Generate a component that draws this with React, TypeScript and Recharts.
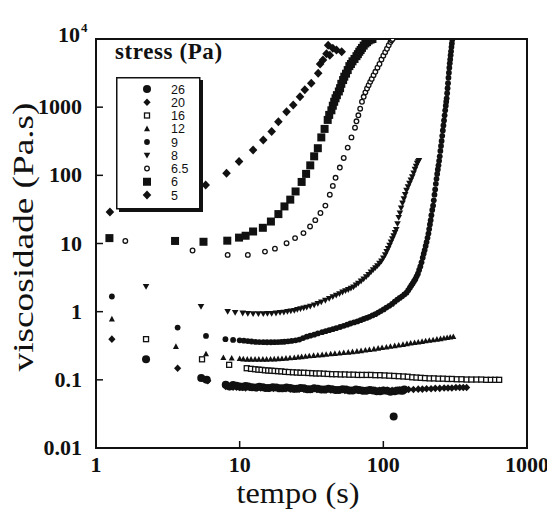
import { ScatterChart, Scatter, XAxis, YAxis, ReferenceArea, Legend } from 'recharts'

const stressLevels = ['26', '20', '16', '12', '9', '8', '6.5', '6', '5']
const xTicks = [1, 10, 100, 1000]
const yTicks = [0.01, 0.1, 1, 10, 100, 1000, 10000]

// [tempo (s), viscosidade (Pa.s)]
const pa26 = [[2.23, 0.2], [5.4, 0.106], [5.9, 0.1], [8, 0.085], [8.5, 0.08], [9, 0.084], [9.5, 0.082], [10, 0.08], [10.5, 0.079], [11, 0.081], [11.5, 0.08], [12.2, 0.078], [13, 0.077], [13.7, 0.079], [14.5, 0.078], [15.2, 0.076], [16, 0.076], [17, 0.078], [18, 0.077], [19, 0.075], [20, 0.075], [21.2, 0.077], [22.5, 0.076], [23.7, 0.074], [25, 0.074], [26.5, 0.076], [28, 0.075], [29.5, 0.073], [31, 0.073], [33, 0.075], [35, 0.074], [37, 0.072], [39, 0.072], [41.5, 0.074], [44, 0.073], [46.5, 0.071], [49, 0.071], [52, 0.073], [55, 0.072], [58, 0.07], [61, 0.07], [64.5, 0.072], [68, 0.071], [72, 0.069], [76, 0.069], [80.5, 0.071], [85, 0.07], [90, 0.068], [95, 0.068], [100, 0.07], [106, 0.069], [112, 0.067], [118, 0.029], [120, 0.068], [126, 0.07], [132, 0.07], [136, 0.069], [140, 0.072]]
const pa20 = [[1.29, 0.395], [3.7, 0.148], [5.6, 0.103], [6, 0.097], [8, 0.08], [8.5, 0.079], [9, 0.078], [9.5, 0.078], [10, 0.077], [10.5, 0.077], [11, 0.076], [11.7, 0.077], [12.5, 0.077], [13.2, 0.076], [14, 0.076], [15, 0.076], [16, 0.075], [17.2, 0.075], [18.5, 0.074], [19.7, 0.074], [21, 0.074], [22.5, 0.073], [24, 0.073], [26, 0.073], [28, 0.073], [30, 0.072], [32, 0.072], [34.5, 0.072], [37, 0.072], [40, 0.071], [43, 0.071], [46.5, 0.071], [50, 0.071], [54, 0.07], [58, 0.07], [62.5, 0.07], [67, 0.07], [72, 0.07], [77, 0.07], [82.5, 0.07], [88, 0.07], [94, 0.07], [100, 0.07], [107, 0.07], [115, 0.07], [122, 0.07], [130, 0.071], [140, 0.071], [150, 0.072], [162, 0.072], [175, 0.073], [187, 0.073], [200, 0.074], [215, 0.074], [230, 0.075], [247, 0.075], [265, 0.076], [282, 0.076], [300, 0.076], [320, 0.077], [340, 0.077], [360, 0.077], [380, 0.077]]
const pa16 = [[2.23, 0.395], [5.47, 0.2], [8.45, 0.166], [11.2, 0.148], [12, 0.145], [12.8, 0.143], [13.5, 0.141], [14.2, 0.14], [15, 0.138], [15.8, 0.137], [16.6, 0.136], [17.5, 0.135], [18.5, 0.134], [19.5, 0.133], [20.7, 0.131], [22, 0.13], [23.5, 0.129], [25, 0.128], [26.5, 0.127], [28, 0.127], [30, 0.126], [32, 0.125], [34, 0.124], [36, 0.124], [38.5, 0.123], [41, 0.122], [44, 0.121], [47, 0.121], [50.5, 0.12], [54, 0.12], [58, 0.119], [62, 0.119], [66.5, 0.118], [71, 0.118], [76.5, 0.118], [82, 0.118], [88, 0.117], [95, 0.117], [102, 0.116], [110, 0.115], [119, 0.114], [128, 0.113], [138, 0.112], [148, 0.111], [159, 0.109], [170, 0.108], [182, 0.107], [195, 0.106], [210, 0.105], [225, 0.105], [242, 0.104], [260, 0.104], [280, 0.103], [300, 0.103], [325, 0.102], [350, 0.102], [380, 0.101], [410, 0.101], [445, 0.101], [480, 0.101], [520, 0.1], [560, 0.1], [600, 0.1], [640, 0.1]]
const pa12 = [[1.29, 0.78], [3.6, 0.308], [5.83, 0.24], [7.7, 0.212], [8.8, 0.208], [10, 0.205], [10.6, 0.202], [11.3, 0.2], [12, 0.2], [12.8, 0.2], [13.6, 0.2], [14.5, 0.2], [15.4, 0.2], [16.4, 0.201], [17.4, 0.202], [18.5, 0.204], [19.7, 0.205], [21, 0.207], [22.4, 0.21], [24, 0.212], [25.5, 0.215], [27, 0.218], [28.7, 0.221], [30.5, 0.224], [32.7, 0.227], [35, 0.23], [37.5, 0.233], [40, 0.236], [43, 0.24], [46, 0.243], [49.5, 0.246], [53, 0.25], [57, 0.254], [61, 0.258], [65.5, 0.262], [70, 0.267], [75, 0.272], [80, 0.277], [86, 0.283], [92, 0.29], [98, 0.296], [105, 0.302], [112, 0.309], [120, 0.316], [128, 0.323], [137, 0.33], [146, 0.338], [155, 0.345], [165, 0.352], [175, 0.358], [186, 0.365], [197, 0.372], [209, 0.379], [222, 0.386], [236, 0.393], [250, 0.4], [264, 0.408], [278, 0.415], [292, 0.422], [307, 0.43]]
const pa9 = [[1.29, 1.67], [3.7, 0.585], [5.83, 0.44], [7.96, 0.395], [9, 0.385], [10, 0.38], [10.7, 0.375], [11.4, 0.37], [12.1, 0.365], [12.9, 0.36], [13.7, 0.358], [14.6, 0.357], [15.5, 0.356], [16.5, 0.356], [17.5, 0.357], [18.5, 0.358], [19.5, 0.36], [20.5, 0.362], [21.7, 0.367], [23, 0.372], [24.5, 0.38], [26, 0.39], [27.6, 0.41], [29.3, 0.43], [31, 0.445], [33, 0.46], [35, 0.48], [37.5, 0.5], [39.7, 0.517], [42, 0.535], [44.5, 0.553], [47, 0.573], [50, 0.596], [53, 0.62], [56, 0.645], [59, 0.67], [62.5, 0.695], [66, 0.72], [69.5, 0.75], [73, 0.78], [76.5, 0.81], [80, 0.84], [84, 0.88], [88, 0.92], [92, 0.97], [96, 1.02], [100.5, 1.08], [105, 1.15], [110, 1.22], [115, 1.3], [120, 1.4], [125, 1.5], [130, 1.59], [135, 1.68], [140, 1.79], [145, 1.9], [149, 2.07], [153, 2.25], [156.5, 2.42], [160, 2.6], [163.5, 2.8], [167, 3.0], [170.5, 3.3], [174, 3.6], [177.5, 4.1], [181, 4.6], [184.5, 5.3], [188, 6.2], [191, 7.1], [194, 8], [197, 9.2], [200, 10.5], [203, 12.1], [206, 14], [208.5, 16.3], [211, 19], [213.5, 22], [216, 26], [219, 31], [222, 36], [224.5, 43], [227, 52], [229.5, 62], [232, 75], [234.5, 89], [237, 105], [239.5, 122], [242, 140], [244.5, 163], [247, 190], [249.5, 228], [252, 270], [254.5, 320], [257, 380], [259.5, 455], [262, 540], [264.5, 640], [267, 760], [269.5, 900], [272, 1050], [274, 1200], [276, 1350], [278, 1600], [280, 1900], [282, 2250], [284, 2700], [286, 3200], [288, 3800], [290, 4400], [292, 5000], [294, 5800], [296, 6600], [298, 7600], [300, 8600], [302, 9800]]
const pa8 = [[2.23, 2.33], [5.38, 1.19], [8.25, 1.0], [9.3, 0.97], [10.5, 0.95], [11.4, 0.94], [12.4, 0.93], [13.5, 0.93], [14.6, 0.93], [15.6, 0.935], [16.7, 0.94], [17.9, 0.95], [19.1, 0.97], [20.3, 0.98], [21.5, 1.0], [22.7, 1.02], [24, 1.04], [25.2, 1.07], [26.5, 1.1], [27.9, 1.13], [29.3, 1.16], [31, 1.2], [33, 1.25], [35, 1.31], [37, 1.38], [39.5, 1.46], [42, 1.56], [44.5, 1.65], [47, 1.74], [49.5, 1.83], [52, 1.93], [54.5, 2.02], [57, 2.1], [59.5, 2.2], [62, 2.3], [64.5, 2.45], [67, 2.6], [70, 2.8], [73, 3.0], [76, 3.25], [79, 3.5], [82, 3.8], [85, 4.1], [88, 4.4], [91, 4.7], [94, 5.1], [97, 5.5], [100, 6.1], [103, 6.8], [105.5, 7.6], [108, 8.4], [110.5, 9.4], [113, 10.5], [115.5, 11.7], [118, 13], [120.5, 14.5], [123, 16], [125.5, 19.5], [128, 24], [130.5, 28], [133, 33], [136, 39], [139, 45], [142, 52], [145, 60], [148.5, 68], [152, 76], [155.5, 85], [159, 95], [162.5, 108], [166, 122], [169, 136], [172, 150], [174.5, 158], [177, 165]]
const pa6_5 = [[1.6, 10.9], [4.7, 7.9], [8.25, 6.8], [11.4, 6.8], [15, 7.6], [17.6, 8.4], [21.2, 10.1], [24.3, 12], [27.8, 14.2], [30.9, 17.8], [33.6, 22], [36.5, 28], [39.5, 36], [42.4, 52], [44.5, 70], [46.5, 92], [49.8, 130], [53, 180], [56.5, 255], [60, 360], [63.5, 500], [65, 620], [67, 760], [69, 950], [71, 1200], [73, 1420], [75, 1650], [77, 1880], [79, 2100], [81, 2350], [83, 2600], [85.5, 2950], [88, 3300], [91, 3800], [94, 4300], [97, 5000], [100, 5700], [103, 6400], [106, 7200], [109, 8100], [112, 9000], [114, 9600], [116, 10000]]
const pa6 = [[1.24, 12], [3.55, 10.9], [5.6, 10.6], [8.2, 11], [9.9, 12.2], [11, 13], [12.4, 15], [14.5, 17], [16.5, 21], [18.6, 27], [20.5, 35], [22.5, 44], [24.5, 58], [27, 80], [29, 105], [31, 140], [33, 190], [35, 250], [37, 360], [39, 480], [41, 650], [42, 770], [43.5, 900], [44.5, 1050], [45.5, 1200], [46.5, 1350], [47.5, 1500], [49, 1700], [50, 1900], [51, 2200], [52.5, 2500], [53.5, 2800], [55, 3100], [56.5, 3500], [58, 4000], [59.5, 4300], [61, 4700], [63, 5100], [65, 5600], [66.5, 6000], [68, 6500], [69.5, 6900], [71, 7400], [73, 8000], [75, 8600], [77, 9000], [79, 9500], [81.5, 9800], [84, 10000]]
const pa5 = [[1.25, 29], [5.8, 72], [8.1, 107], [9.9, 160], [12.4, 235], [14.6, 330], [16.7, 440], [18.6, 610], [21.2, 860], [23.6, 1080], [26.3, 1420], [28.4, 1800], [31.5, 2250], [35.2, 3150], [36.3, 4300], [38, 4900], [40.2, 6100], [41.3, 8100], [42.4, 5800], [44.5, 7300], [47.2, 6900], [51.3, 6500]]

const seriesPoints = [pa26, pa20, pa16, pa12, pa9, pa8, pa6_5, pa6, pa5]
const markerKinds = ['bigDot', 'diamond', 'openSquare', 'triUp', 'dot', 'triDown', 'openDot', 'square', 'bigDiamond']

const ink = '#111'
const serif = 'Liberation Serif, Times New Roman, serif'

function drawMarker(kind: string, cx: number, cy: number) {
  switch (kind) {
    case 'bigDot':
      return <circle cx={cx} cy={cy} r={4} fill={ink} />
    case 'diamond':
      return <polygon points={`${cx},${cy - 3.8} ${cx + 3.6},${cy} ${cx},${cy + 3.8} ${cx - 3.6},${cy}`} fill={ink} />
    case 'openSquare':
      return <rect x={cx - 2.5} y={cy - 2.5} width={5} height={5} fill="#fff" stroke={ink} strokeWidth={1.3} />
    case 'triUp':
      return <polygon points={`${cx},${cy - 3.2} ${cx + 3},${cy + 2.4} ${cx - 3},${cy + 2.4}`} fill={ink} />
    case 'dot':
      return <circle cx={cx} cy={cy} r={2.9} fill={ink} />
    case 'triDown':
      return <polygon points={`${cx - 3.3},${cy - 2.6} ${cx + 3.3},${cy - 2.6} ${cx},${cy + 3.2}`} fill={ink} />
    case 'openDot':
      return <circle cx={cx} cy={cy} r={2.3} fill="#fff" stroke={ink} strokeWidth={1.3} />
    case 'square':
      return <rect x={cx - 4} y={cy - 4} width={8} height={8} fill={ink} />
    default:
      return <polygon points={`${cx},${cy - 4.5} ${cx + 4.3},${cy} ${cx},${cy + 4.5} ${cx - 4.3},${cy}`} fill={ink} />
  }
}

function XTick(props: any) {
  const { x, y, payload } = props
  const inner = payload.value > 1 && payload.value < 1000
  return (
    <g>
      {inner && <line x1={x} y1={y} x2={x} y2={y - 7} stroke={ink} strokeWidth={1.5} />}
      <text x={x} y={y + 24} textAnchor="middle" fontFamily={serif} fontWeight="bold" fontSize={22} fill={ink} stroke="none">
        {payload.value}
      </text>
    </g>
  )
}

function YTick(props: any) {
  const { x, y, payload } = props
  const v = payload.value
  const inner = v > 0.01 && v < 10000
  if (v === 10000) {
    return (
      <g>
        <text x={x - 16} y={y + 3} textAnchor="end" fontFamily={serif} fontWeight="bold" fontSize={22} fill={ink} stroke="none">10</text>
        <text x={x - 15} y={y - 7} fontFamily={serif} fontWeight="bold" fontSize={13} fill={ink} stroke="none">4</text>
      </g>
    )
  }
  return (
    <g>
      {inner && <line x1={x} y1={y} x2={x + 7} y2={y} stroke={ink} strokeWidth={1.5} />}
      <text x={x - 14} y={y + 7} textAnchor="end" fontFamily={serif} fontWeight="bold" fontSize={22} fill={ink} stroke="none">
        {v}
      </text>
    </g>
  )
}

function StressLegend() {
  return (
    <div style={{ position: 'relative', width: 150, height: 180 }}>
      <div
        style={{
          position: 'absolute',
          left: 7,
          top: -4,
          fontFamily: serif,
          fontWeight: 'bold',
          fontSize: 23,
          letterSpacing: 0.6,
          lineHeight: '25px',
          color: ink,
          whiteSpace: 'nowrap',
        }}
      >
        {'stress (Pa)'}
      </div>
      <svg width={110} height={180} style={{ position: 'absolute', left: 0, top: 0 }}>
        <rect x={11} y={37} width={84} height={132} fill={ink} />
        <rect x={8.75} y={34.75} width={83} height={131} fill="#fff" stroke={ink} strokeWidth={1.5} />
        {stressLevels.map((s, i) => {
          const cy = 46 + i * 13.25
          return (
            <g key={s}>
              {drawMarker(markerKinds[i], 39, cy)}
              <text x={63} y={cy + 4.5} fontFamily="Liberation Sans, Arial, sans-serif" fontSize={12.5} fill={ink} stroke="none">
                {s}
              </text>
            </g>
          )
        })}
      </svg>
    </div>
  )
}

export default function App() {
  const series = stressLevels.map((s, i) => ({
    name: s,
    kind: markerKinds[i],
    data: seriesPoints[i].map(([t, eta]) => ({ t, eta })),
  }))

  return (
    <div style={{ width: 547, height: 507 }}>
      <ScatterChart width={547} height={507} margin={{ top: 31, right: 28, bottom: 37, left: 28 }}>
        <XAxis
          type="number"
          dataKey="t"
          scale="log"
          domain={[1, 1000]}
          ticks={xTicks}
          interval={0}
          allowDataOverflow
          height={30}
          tickSize={0}
          tickMargin={0}
          tickLine={false}
          axisLine={{ stroke: ink, strokeWidth: 2 }}
          tick={(p: any) => <XTick {...p} />}
          label={{
            content: () => (
              <text x={290} y={495} textAnchor="middle" fontFamily={serif} fontWeight="normal" fontSize={29} fill={ink} stroke="none" textLength={123} lengthAdjust="spacingAndGlyphs">
                tempo (s)
              </text>
            ),
          }}
        />
        <YAxis
          type="number"
          dataKey="eta"
          scale="log"
          domain={[0.01, 10000]}
          ticks={yTicks}
          interval={0}
          allowDataOverflow
          width={60}
          tickSize={0}
          tickMargin={0}
          tickLine={false}
          axisLine={{ stroke: ink, strokeWidth: 2 }}
          tick={(p: any) => <YTick {...p} />}
          label={{
            content: () => (
              <text x={25} y={229} transform="rotate(-90 25 229)" textAnchor="middle" fontFamily={serif} fontWeight="normal" fontSize={29} fill={ink} stroke="none" textLength={269} lengthAdjust="spacingAndGlyphs">
                viscosidade (Pa.s)
              </text>
            ),
          }}
        />
        <ReferenceArea x1={1} x2={1000} y1={0.01} y2={10000} fill="none" stroke={ink} strokeWidth={2} />
        {series.map((s) => (
          <Scatter
            key={s.name}
            name={s.name}
            data={s.data}
            isAnimationActive={false}
            shape={(p: any) => drawMarker(s.kind, p.cx, p.cy)}
          />
        ))}
        <Legend
          layout="vertical"
          align="center"
          verticalAlign="middle"
          wrapperStyle={{ top: 35, left: 100, width: 150, height: 180 }}
          content={() => <StressLegend />}
        />
      </ScatterChart>
    </div>
  )
}
